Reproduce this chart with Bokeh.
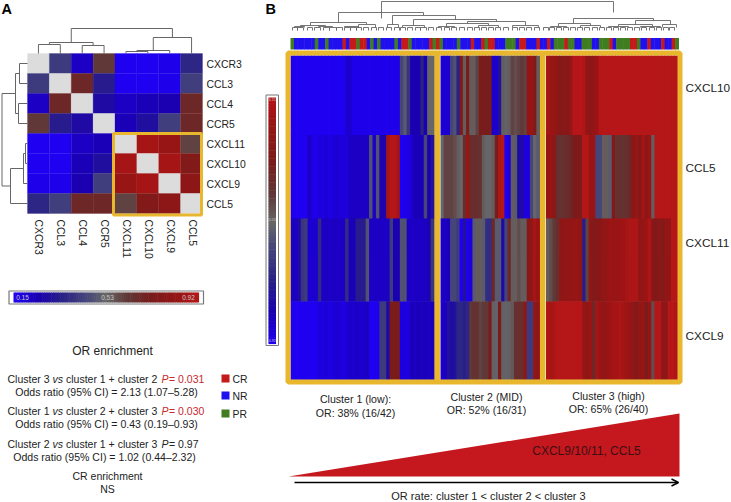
import numpy as np
from bokeh.plotting import figure
from bokeh.models import Range1d, Arrow, OpenHead
from bokeh.core.properties import value
from bokeh.embed import file_html
from bokeh.resources import INLINE

# ---------------- data ----------------
genes_a = ["CXCR3", "CCL3", "CCL4", "CCR5", "CXCL11", "CXCL10", "CXCL9", "CCL5"]
corr = [
    [1.00, 0.42, 0.22, 0.62, 0.15, 0.15, 0.16, 0.36],
    [0.42, 1.00, 0.68, 0.33, 0.15, 0.15, 0.16, 0.43],
    [0.22, 0.68, 1.00, 0.28, 0.22, 0.24, 0.25, 0.68],
    [0.62, 0.33, 0.28, 1.00, 0.24, 0.29, 0.43, 0.68],
    [0.15, 0.15, 0.22, 0.24, 1.00, 0.88, 0.84, 0.60],
    [0.15, 0.15, 0.24, 0.29, 0.88, 1.00, 0.88, 0.76],
    [0.16, 0.16, 0.25, 0.43, 0.84, 0.88, 1.00, 0.80],
    [0.36, 0.43, 0.68, 0.68, 0.60, 0.76, 0.80, 1.00],
]
genes_b = ["CXCL10", "CCL5", "CXCL11", "CXCL9"]
c1_cxcl10 = [15,15,15,15,15,15,15,15,15,15,15,15,15,15,15,15,20,20,16,16,16,16,16,16,16,16,16,16,16,16,16,16,45,50,40,25,25,25,35,25,53,53]
c1_ccl5 = [15,15,15,15,15,22,17,16,18,17,19,17,18,20,18,19,18,22,22,22,22,22,22,48,22,48,26,26,88,92,92,88,15,16,17,20,24,24,24,45,25,30]
c1_cxcl11 = [22,22,28,40,42,20,20,20,38,22,22,22,22,22,22,22,38,24,24,33,33,33,48,22,22,22,22,22,22,42,25,25,48,48,22,22,22,22,22,22,26,40]
c1_cxcl9 = [15,15,15,15,15,15,15,15,18,17,19,17,18,20,18,17,19,21,20,22,20,21,22,15,15,15,42,42,28,72,74,72,18,18,18,24,22,24,22,24,22,24]
c2_cxcl10 = [20,20,20,45,48,35,75,55,72,55,55,60,72,72,72,72,22,20,30,55,52,55,60,58,60,62,60,82,85,75,55]
c2_ccl5 = [53,60,60,60,58,55,53,66,85,66,66,66,64,55,53,53,55,72,90,92,15,18,55,50,28,28,18,18,45,53,50]
c2_cxcl11 = [22,22,24,45,45,42,15,30,16,18,50,55,55,50,38,38,68,50,50,28,45,68,55,55,58,55,55,78,82,88,85]
c2_cxcl9 = [22,22,30,28,30,36,36,34,36,62,64,64,60,62,62,72,54,52,72,54,52,54,56,65,66,65,80,42,42,82,80]
c3_cxcl10 = [88,84,84,80,76,80,76,84,92,92,92,90,82,80,82,86,92,92,92,92,92,92,92,92,92,92,92,92,92,92,92,92,92,92,92,92,92,92,92,92]
c3_ccl5 = [82,85,80,65,64,65,66,68,72,75,72,92,92,85,85,45,45,55,55,50,75,65,65,64,65,68,78,85,76,88,80,84,55,92,92,92,92,92,92,92]
c3_cxcl11 = [55,58,62,66,80,82,82,82,84,84,80,33,60,80,76,78,78,82,82,86,84,84,86,86,88,90,90,90,82,82,86,90,78,75,80,76,82,82,92,92]
c3_cxcl9 = [90,88,90,92,92,92,92,92,92,92,92,84,80,85,68,88,84,82,84,86,88,88,90,88,86,84,82,76,82,84,74,82,58,92,92,80,80,92,92,90]
response = list(
    "GBBBBBBGBBGBBBBRBRRGRRBGBGBBBBGBRRGBBBBBRGRG"
    "BBBBGBBBRBBRGRRBBBGGGBRRBBBRBBRBGGGRGGBBGGGBBGGGRBGGGGRRGBBRBBBRBBRG"
)
response_names = {"R": "CR", "B": "NR", "G": "PR"}
response_colors = {"CR": "#c41a1a", "NR": "#2010ee", "PR": "#3f7d20"}
cluster_lines = [("Cluster 1 (low):", "OR: 38% (16/42)"), ("Cluster 2 (MID)", "OR: 52% (16/31)"), ("Cluster 3 (high)", "OR: 65% (26/40)")]
scale_labels = ["0.15", "0.53", "0.92"]

# colour scale (value in correlation units -> colour)
stops = [0.15, 0.25, 0.35, 0.45, 0.53, 0.62, 0.72, 0.85, 0.92]
stop_rgb = [(0x1f,0x00,0xf0),(0x1a,0x00,0xb0),(0x2a,0x22,0x85),(0x45,0x45,0x7a),(0x66,0x66,0x68),
            (0x60,0x38,0x38),(0x78,0x1c,0x1c),(0x9a,0x14,0x14),(0xb5,0x16,0x18)]
def col(v):
    if v >= 1: return "#dcdcdc"
    r = [int(round(np.interp(v, stops, [c[i] for c in stop_rgb]))) for i in range(3)]
    return "#%02x%02x%02x" % tuple(r)

GOLD = "#e8b72e"
FONT = value("Liberation Sans")
LINK = "#666666"

p = figure(width=731, height=502, output_backend="svg", toolbar_location=None,
           x_range=Range1d(0, 731), y_range=Range1d(502, 0), min_border=0,
           background_fill_color="white", border_fill_color="white", outline_line_color=None)
p.axis.visible = False
p.grid.visible = False

def txt(x, y, s, size=10.3, align="left", color="#222222", style="normal", angle=0, baseline="middle"):
    p.text([x], [y], text=[s], text_font=FONT, text_font_size=f"{size}px", text_align=align,
           text_baseline=baseline, text_color=color, text_font_style=style, angle=angle)

# ---------------- panel A heatmap ----------------
ax0, ax1, ay0, ay1 = 27.0, 202.0, 53.0, 213.0
cw, ch = (ax1-ax0)/8, (ay1-ay0)/8
L,R,T,B,C = [],[],[],[],[]
for i,row in enumerate(corr):
    for j,v in enumerate(row):
        L.append(ax0+j*cw); R.append(ax0+(j+1)*cw); T.append(ay0+i*ch); B.append(ay0+(i+1)*ch); C.append(col(v))
p.quad(left=L,right=R,top=T,bottom=B,fill_color=C,line_color=C,line_width=0.3)
for i,g in enumerate(genes_a):
    txt(206, ay0+(i+.5)*ch+1, g, 10.4)
    txt(ax0+(i+.5)*cw+0.5, 219, g, 10.4, angle=-np.pi/2)
p.quad(left=[113],right=[201],top=[133],bottom=[214.5],fill_color=None,line_color=GOLD,line_width=3)

# top dendrogram A: (left leaf pos, right leaf pos, y, y under left, y under right), positions in leaf units
den_a_top = [(0,1,44,53,53),(2,3,45,53,53),(0.5,2.5,42,44,45),(4,5,51,53,53),(4.5,6,50,51,53),(5.25,7,37,50,53),(1.5,6.125,28,42,37)]
for a,b,y,ya,yb in den_a_top:
    xa, xb = ax0+(a+.5)*cw, ax0+(b+.5)*cw
    p.line([xa,xa,xb,xb],[ya,y,y,yb],line_color=LINK,line_width=1)
# left dendrogram A: (top leaf pos, bottom leaf pos, x, x under top, x under bottom)
den_a_left = [(0,1,19,27,27),(2,3,18,27,27),(0.5,2.5,15,19,18),(4,5,25,27,27),(4.5,6,23,25,27),(5.25,7,10,23,27),(1.5,6.125,1.5,15,10)]
for a,b,x,xa,xb in den_a_left:
    ya, yb = ay0+(a+.5)*ch, ay0+(b+.5)*ch
    p.line([xa,x,x,xb],[ya,ya,yb,yb],line_color=LINK,line_width=1)

# colour bar A
p.quad(left=[8.5],right=[203],top=[290.5],bottom=[303.5],fill_color="white",line_color="#777777",line_width=1.2)
lev = np.arange(0.15,0.92,0.0075)
w = (198-13)/len(lev)
p.quad(left=[13+i*w for i in range(len(lev))],right=[13+(i+1)*w+.6 for i in range(len(lev))],top=[292]*len(lev),bottom=[302]*len(lev),
       fill_color=[col(v) for v in lev],line_color=None)
for xx,s in zip([22,107,188],scale_labels):
    txt(xx,297,s,6.5,"center","#c8c8c8")

# ---------------- panel B heatmap ----------------
clusters = [(290.0,433.5,[c1_cxcl10,c1_ccl5,c1_cxcl11,c1_cxcl9]),
            (440.0,539.0,[c2_cxcl10,c2_ccl5,c2_cxcl11,c2_cxcl9]),
            (545.5,677.0,[c3_cxcl10,c3_ccl5,c3_cxcl11,c3_cxcl9])]
row_edges = [55.0,134.5,218.0,301.0,379.0]
L,R,T,B,C = [],[],[],[],[]
for x0,x1,rows in clusters:
    for r,vals in enumerate(rows):
        w = (x1-x0)/len(vals)
        for k,v in enumerate(vals):
            L.append(x0+k*w); R.append(x0+(k+1)*w+0.8); T.append(row_edges[r]); B.append(row_edges[r+1]+0.4); C.append(col(v/100))
p.quad(left=L,right=R,top=T,bottom=B,fill_color=C,line_color=None)
for g,yy in zip(genes_b,[87,167,242,335]):
    txt(685,yy,g,11.8)
p.quad(left=[287.5],right=[679.5],top=[52.5],bottom=[381.5],fill_color=None,line_color=GOLD,line_width=5)
for xx in [436.7,542.2]:
    p.line([xx,xx],[52,381],line_color=GOLD,line_width=5.5)

# annotation bar
bw = (678-290)/len(response)
rc = [response_colors[response_names[r]] for r in response]
p.quad(left=[290+i*bw for i in range(len(response))],right=[290+(i+1)*bw+0.5 for i in range(len(response))],
       top=[37.5]*len(response),bottom=[49]*len(response),fill_color=rc,line_color=None)

# dendrogram B: leaf pairs and merges (x left, x right, y, y under left, y under right)
leaf_pairs = [(292,297),(297,303),(307,312),(314,320),(323,329),(329,336),(336,342),(344,350),(350,356),(356,361),(363,368),(371,376),(378,383),
              (386,391),(394,399),(400,405),(407,412),(415,420),(420,426),(428,433),(436,441),(444,449),(451,456),(459,464),(467,472),(474,479),
              (481,486),(488,493),(495,500),(503,508),(512,517),(519,524),(526,531),(534,539),(543,548),(549,554),(556,561),(563,568),(570,575),
              (577,582),(584,589),(592,597),(599,604),(606,611),(613,618),(620,625),(627,632),(634,639),(641,646),(649,654),(656,661),(663,668),(669,674)]
merges_b = [(381,613,1,18,12),(338,423,12,22,15),(392,455,15,24,19),(413,496,19,25,21),(310,366,22,25,24),(300,325,25,27,27),(358,375,24,27,27),
            (387,398,24,27,27),(402,424,25,27,27),(467,525,21,23,25),(446,488,23,26,25),(512,538,25,27,27),(438,454,26,27,27),(478,498,25,27,27),
            (573,653,18,23,20),(558,590,23,26,25),(550,566,26,27,27),(580,600,25,27,27),(635,670,20,24,24),(618,652,24,26,26),(608,628,26,27,27),
            (662,676,24,27,27),(294,304,26,27,27),(318,332,26,27,27),(344,358,26,27,27),(640,660,26,27,27)]
xs = [[a,a,b,b] for a,b in leaf_pairs]; ys = [[30,27,27,30] for _ in leaf_pairs]
xs += [[a,a,b,b] for a,b,y,ya,yb in merges_b]; ys += [[ya,y,y,yb] for a,b,y,ya,yb in merges_b]
p.multi_line(xs,ys,line_color=LINK,line_width=0.9)

# vertical colour bar B
p.quad(left=[265.5],right=[278],top=[94.5],bottom=[345],fill_color="white",line_color="#777777",line_width=1)
lev = np.arange(0.92,0.15,-0.005)
h = (343-97)/len(lev)
p.quad(left=[268]*len(lev),right=[275.5]*len(lev),top=[97+i*h for i in range(len(lev))],bottom=[97+(i+1)*h+.6 for i in range(len(lev))],
       fill_color=[col(v) for v in lev],line_color=None)
for yy,s in zip([99,219,340],scale_labels):
    txt(271.7,yy,s,3.5,"center","#c8c8c8")

# ---------------- bottom of panel B ----------------
for (a,b),xx,y1,y2 in zip(cluster_lines,[355,486,608],[398,396,395],[412,409,408]):
    txt(xx,y1,a,10.6,"center"); txt(xx,y2,b,10.6,"center")
p.patch([288,679,679],[476,413,476],fill_color="#c4181e",line_color=None)
txt(586,450,"CXCL9/10/11, CCL5",12,"center","#3c0f14")
p.add_layout(Arrow(end=OpenHead(size=7,line_width=1.4,line_color="black"),x_start=294,y_start=482,x_end=678,y_end=482,line_color="black",line_width=1.5))
txt(488,495,"OR rate: cluster 1 < cluster 2 < cluster 3",11,"center")

# ---------------- lower left text ----------------
RED = "#c8282c"
txt(112,350,"OR enrichment",12,"center")
def line(y,a,b,pv,color):
    txt(7,y,a,10.5); txt(52,y,"vs",10.5,style="italic"); txt(65.5,y,b,10.5)
    txt(161,y,"P",10.5,color=color,style="italic"); txt(168.5,y,pv,10.5,color=color)
line(378,"Cluster 3","cluster 1 + cluster 2","= 0.031",RED)
txt(106,391,"Odds ratio (95% CI) = 2.13 (1.07–5.28)",10.55,"center")
line(410,"Cluster 1","cluster 2 + cluster 3","= 0.030",RED)
txt(106,423,"Odds ratio (95% CI) = 0.43 (0.19–0.93)",10.55,"center")
line(443,"Cluster 2","cluster 1 + cluster 3","= 0.97","#222222")
txt(104,456,"Odds ratio (95% CI) = 1.02 (0.44–2.32)",10.55,"center")
txt(107,475,"CR enrichment",10.5,"center")
txt(107,488,"NS",10.5,"center")
for name,yy in zip(["CR","NR","PR"],[374,391,409]):
    p.quad(left=[221],right=[229],top=[yy],bottom=[yy+8],fill_color=response_colors[name],line_color=None)
    txt(232,yy+4.5,name,10.4)

txt(1,8.5,"A",14.5,style="bold",color="black")
txt(265,8,"B",14.5,style="bold",color="black")

html = file_html(p, INLINE)
open("out.html","w").write(html)
